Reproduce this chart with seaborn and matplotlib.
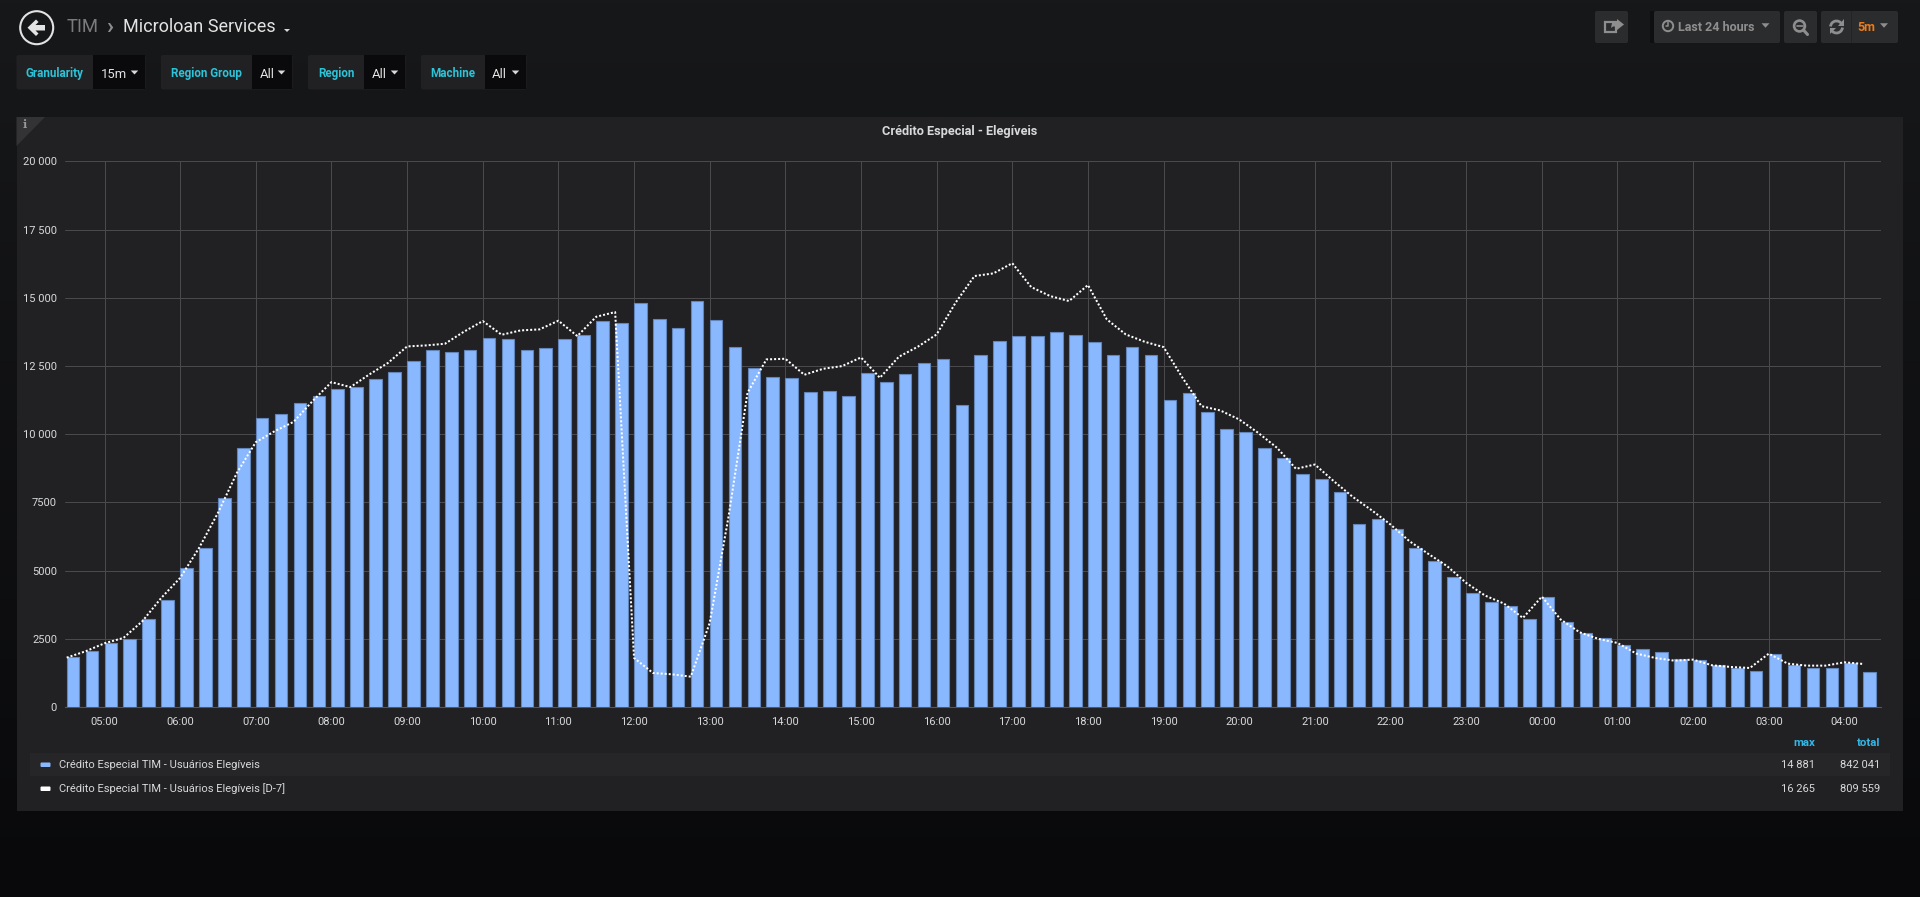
import numpy as np
import pandas as pd
import matplotlib
matplotlib.use("Agg")
import matplotlib.pyplot as plt
from matplotlib.patches import Rectangle, Circle, Polygon, FancyBboxPatch, Arc
import seaborn as sns

# ---------- data ----------
minutes_since_start = list(range(0, 96 * 15, 15))   # 04:30 ... 04:15 next day
eligible = [
    1834, 2054, 2360, 2506, 3240, 3912, 5110, 5831, 7665, 9487, 10587, 10721,
    11137, 11406, 11638, 11712, 12029, 12262, 12690, 13069, 12995, 13093, 13521, 13472,
    13093, 13142, 13497, 13619, 14144, 14071, 14805, 14230, 13900, 14881, 14193, 13191,
    12408, 12103, 12066, 11540, 11589, 11406, 12250, 11907, 12213, 12592, 12763, 11051,
    12897, 13411, 13606, 13606, 13753, 13643, 13386, 12897, 13191, 12910, 11259, 11504,
    10807, 10196, 10086, 9499, 9108, 8545, 8362, 7897, 6712, 6907, 6540, 5844,
    5355, 4768, 4181, 3851, 3704, 3215, 4046, 3117, 2714, 2531, 2286, 2127,
    2017, 1760, 1724, 1540, 1430, 1320, 1956, 1553, 1443, 1430, 1601, 1296,
]
eligible_d7 = [
    1809, 2042, 2335, 2531, 3142, 3998, 4731, 5831, 7115, 8582, 9707, 10110,
    10452, 11210, 11907, 11724, 12188, 12616, 13215, 13252, 13313, 13753, 14144, 13643,
    13802, 13839, 14157, 13594, 14303, 14474, 1797, 1247, 1198, 1112, 3081, 6993,
    11516, 12739, 12763, 12176, 12396, 12494, 12812, 12066, 12836, 13203, 13655, 14817,
    15795, 15892, 16265, 15391, 15061, 14878, 15465, 14205, 13655, 13386, 13191, 12066,
    11027, 10868, 10538, 10049, 9499, 8729, 8887, 8276, 7702, 7213, 6687, 6076,
    5611, 5159, 4548, 4083, 3790, 3264, 4046, 3203, 2738, 2494, 2347, 1956,
    1797, 1699, 1736, 1528, 1467, 1430, 1956, 1589, 1516, 1516, 1638, 1577,
]
hour_labels = ["05:00", "06:00", "07:00", "08:00", "09:00", "10:00", "11:00", "12:00",
               "13:00", "14:00", "15:00", "16:00", "17:00", "18:00", "19:00", "20:00",
               "21:00", "22:00", "23:00", "00:00", "01:00", "02:00", "03:00", "04:00"]
hour_ticks = [30 + 60 * i for i in range(len(hour_labels))]
y_ticks = [0, 2500, 5000, 7500, 10000, 12500, 15000, 17500, 20000]
y_labels = ["0", "2500", "5000", "7500", "10 000", "12 500", "15 000", "17 500", "20 000"]
series_names = ["Crédito Especial TIM - Usuários Elegíveis",
                "Crédito Especial TIM - Usuários Elegíveis [D-7]"]
series_max = ["14 881", "16 265"]
series_total = ["842 041", "809 559"]

# ---------- style ----------
sns.set_theme(style="dark")
plt.rcParams["font.family"] = ["Roboto", "DejaVu Sans"]
W, H = 1920, 897
TXT = "#d8d9da"
GRID = "#4a4a4d"
PANEL = "#212124"
CYAN = "#2cc4d8"

fig = plt.figure(figsize=(W / 100, H / 100), dpi=100)

# ---------- page chrome (pixel coordinates) ----------
bg = fig.add_axes([0, 0, 1, 1], zorder=0)
bg.set_xlim(0, W)
bg.set_ylim(H, 0)
bg.axis("off")
top_rgb = np.array(matplotlib.colors.to_rgb("#17181a"))
bot_rgb = np.array(matplotlib.colors.to_rgb("#09090b"))
grad = np.linspace(0, 1, 256)[:, None, None] * (bot_rgb - top_rgb)[None, None, :] + top_rgb
bg.imshow(grad, extent=(0, W, H, 0), aspect="auto", zorder=0)
bg.set_xlim(0, W)
bg.set_ylim(H, 0)


def rect(x0, y0, x1, y1, color, z=1):
    bg.add_patch(Rectangle((x0, y0), x1 - x0, y1 - y0, facecolor=color, edgecolor="none", zorder=z))


def rbox(x0, y0, x1, y1, color, z=1):
    bg.add_patch(FancyBboxPatch((x0 + 2, y0 + 2), x1 - x0 - 4, y1 - y0 - 4,
                                boxstyle="round,pad=2,rounding_size=2",
                                facecolor=color, edgecolor="none", zorder=z))


def caret(cx, cy, w, h, color, z=3):
    bg.add_patch(Polygon([(cx - w / 2, cy - h / 2), (cx + w / 2, cy - h / 2), (cx, cy + h / 2)],
                         closed=True, facecolor=color, edgecolor="none", zorder=z))


def txt(x, y, s, px, color=TXT, ha="left", weight="normal", z=4):
    bg.text(x, y, s, fontsize=px * 0.72, color=color, ha=ha, va="center", weight=weight, zorder=z)


# panel
rect(16.5, 117, 1903, 811, PANEL)
bg.add_patch(Polygon([(16.5, 117), (45, 117), (16.5, 146)], closed=True, facecolor="#333336",
                     edgecolor="none", zorder=2))
bg.text(24.5, 125, "i", fontsize=8, color="#9a9a9a", ha="center", va="center",
        family="DejaVu Serif", weight="bold", zorder=3)
txt(960, 131, "Crédito Especial - Elegíveis", 12.8, ha="center", weight="bold")

# back button + breadcrumb
bg.add_patch(Circle((36.7, 27.7), 16.5, facecolor="none", edgecolor="#e3e3e3", linewidth=1.5, zorder=3))
bg.add_patch(Polygon([(27.5, 27.7), (36, 19.5), (38.5, 22), (35.5, 25), (45, 25), (45, 30.5),
                      (35.5, 30.5), (38.5, 33.5), (36, 36)],
                     closed=True, facecolor="#e3e3e3", edgecolor="none", zorder=3))
txt(67, 27.5, "TIM", 18.5, color="#7b7b7b")
txt(109.5, 27, "›", 23, color="#8e8e8e", ha="center", weight="bold")
txt(123, 27.5, "Microloan Services", 18, color="#e3e3e3")
caret(287, 30.5, 6, 3, "#d8d9da")

# template variables
variables = [("Granularity", "15m", 16.5, 93, 145.5),
             ("Region Group", "All", 161, 252, 292.5),
             ("Region", "All", 308, 364, 405.5),
             ("Machine", "All", 421, 484.5, 526.5)]
for label, value, x0, x1, x2 in variables:
    rbox(x0, 55, x2, 89.5, "#212124", 1)
    rect(x1, 55.5, x2 - 1, 89, "#0a0a0c", 2)
    txt((x0 + x1) / 2, 73.5, label, 11.6, color=CYAN, ha="center", weight="bold")
    txt(x1 + 7.5, 74, value, 13, color="#e3e3e3")
    caret(x2 - 11, 72.5, 7.5, 4, "#d8d9da")

# toolbar
BTN = "#2b2c2e"
ICON = "#8e8e8e"
rbox(1595, 11, 1628, 43, BTN)
rbox(1654, 11, 1780, 43, BTN)
rbox(1784, 11, 1817, 43, BTN)
rbox(1821, 11, 1898, 43, BTN)
rect(1851, 11, 1852, 43, "#232426", 2)
rect(1650, 11, 1654, 43, "#0e0f11", 2)
# share icon
bg.add_patch(Rectangle((1605, 22), 11, 10.5, facecolor="none", edgecolor=ICON, linewidth=1.6, zorder=3))
bg.add_patch(Polygon([(1611, 28), (1612, 23), (1617, 22), (1617, 19), (1624, 24.5), (1617, 30), (1617, 26.5), (1613, 26.5)],
                     closed=True, facecolor=ICON, edgecolor="none", zorder=4))
# clock icon
bg.add_patch(Circle((1668, 26), 5.2, facecolor="none", edgecolor=ICON, linewidth=1.4, zorder=3))
bg.plot([1668, 1668, 1665.5], [22.5, 26.5, 26.5], color=ICON, lw=1.1, zorder=3)
txt(1678, 27.5, "Last 24 hours", 12.5, color=ICON, weight="bold")
caret(1765.5, 25.5, 8, 4.5, ICON)
# zoom-out icon
bg.add_patch(Circle((1799.5, 26), 5.4, facecolor="none", edgecolor=ICON, linewidth=1.9, zorder=3))
bg.plot([1796.5, 1802.5], [26.5, 26.5], color=ICON, lw=1.2, zorder=3)
bg.plot([1803.5, 1807.5], [30, 34.5], color=ICON, lw=2.2, zorder=3)
# refresh icon
bg.add_patch(Arc((1836.5, 27), 12, 12, theta1=185, theta2=330, edgecolor=ICON, linewidth=2, zorder=3))
bg.add_patch(Arc((1836.5, 27), 12, 12, theta1=5, theta2=150, edgecolor=ICON, linewidth=2, zorder=3))
bg.add_patch(Polygon([(1843.5, 19.5), (1843.5, 26), (1837.5, 26)], closed=True, facecolor=ICON, edgecolor="none", zorder=3))
bg.add_patch(Polygon([(1829.5, 34.5), (1829.5, 28), (1835.5, 28)], closed=True, facecolor=ICON, edgecolor="none", zorder=3))
txt(1857, 27.5, "5m", 12.5, color="#eb7b18", weight="bold")
caret(1884, 25.5, 8, 4.5, ICON)

# legend
rect(30, 753, 1890, 776.5, "#262628", 1)
swatches = ["#8ab8ff", "#ffffff"]
for i, (name, mx, total) in enumerate(zip(series_names, series_max, series_total)):
    cy = 764.5 + 24 * i
    bg.add_patch(FancyBboxPatch((41.5, cy - 1), 8, 2.5, boxstyle="round,pad=1,rounding_size=1",
                                facecolor=swatches[i], edgecolor="none", zorder=3))
    txt(59, cy, name, 11.1)
    txt(1815, cy, mx, 11.1, ha="right")
    txt(1880, cy, total, 11.1, ha="right")
txt(1815, 742.5, "max", 11.5, color="#33b5e5", ha="right", weight="bold")
txt(1880, 742.5, "total", 11.5, color="#33b5e5", ha="right", weight="bold")

# ---------- chart ----------
ax_l, ax_r, ax_t, ax_b = 65.3, 1881, 161.3, 707.0
ax = fig.add_axes([ax_l / W, 1 - ax_b / H, (ax_r - ax_l) / W, (ax_b - ax_t) / H], zorder=2)
ax.patch.set_alpha(0)

bar_centers = [m + 5 for m in minutes_since_start]   # bars start at their timestamp
df_bars = pd.DataFrame({"t": bar_centers, "v": eligible})
df_line = pd.DataFrame({"t": minutes_since_start, "v": eligible_d7})

sns.barplot(data=df_bars, x="t", y="v", native_scale=True, width=0.667, color="#8ab8ff",
            saturation=1, edgecolor="#6285bb", linewidth=0.8, errorbar=None, ax=ax, zorder=3)
sns.lineplot(data=df_line, x="t", y="v", color="white", linewidth=1.45, linestyle=(0, (1, 1)),
             errorbar=None, ax=ax, zorder=4)

ax.set_xlim(-1.1, 1439)
ax.set_ylim(0, 20000)
ax.set_xlabel("")
ax.set_ylabel("")
ax.set_xticks(hour_ticks, hour_labels)
ax.set_yticks(y_ticks, y_labels)
ax.tick_params(axis="both", length=0, labelcolor=TXT, labelsize=8.0)
ax.tick_params(axis="x", pad=7)
ax.tick_params(axis="y", pad=6)
ax.grid(True, color=GRID, linewidth=0.72)
ax.set_axisbelow(True)
for side in ("top", "left", "right"):
    ax.spines[side].set_visible(False)
ax.spines["bottom"].set_color("#55565a")
ax.spines["bottom"].set_linewidth(0.8)

fig.savefig("out.png", dpi=100, facecolor="#0a0a0c")
